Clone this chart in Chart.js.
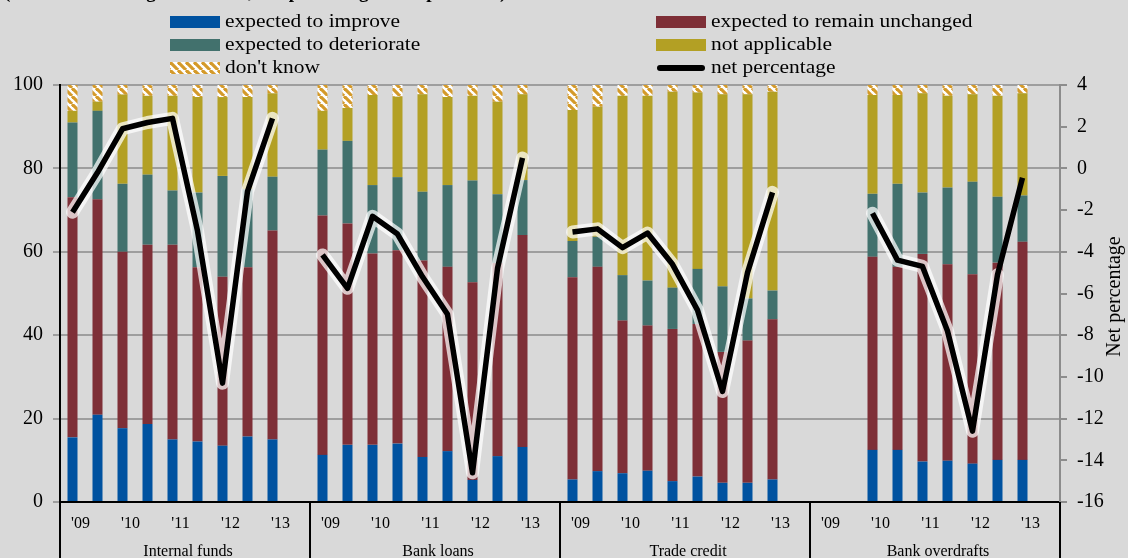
<!DOCTYPE html>
<html>
<head>
<meta charset="utf-8">
<script src="https://cdn.jsdelivr.net/npm/chart.js@4"></script>
<style>
  body { margin: 0; background: #d9d9d9; }
  #wrap { position: relative; width: 1128px; height: 558px; overflow: hidden; }
  #chart { position: absolute; left: 0; top: 0; }
  .hdr { position: absolute; left: 4px; top: -19px; font: bold 19px "Liberation Serif", serif; white-space: nowrap; }
  .lg { position: absolute; font: 19.5px "Liberation Serif", serif; color: #000; white-space: nowrap; line-height: 22px;
        transform: scaleX(1.1); transform-origin: left center; }
  .sw { position: absolute; width: 50px; height: 11px; }
</style>
</head>
<body>
<div id="wrap">
  <canvas id="chart" width="1128" height="558"></canvas>
  <div class="hdr">(over the following six months; net percentage of respondents)</div>
</div>
<script>
// categories
const groups = ['Internal funds', 'Bank loans', 'Trade credit', 'Bank overdrafts'];
const periodTicks = ["'09", '', "'10", '', "'11", '', "'12", '', "'13", ''];

// percentages of respondents, half-years H1 2009 .. H1 2013, per group
const improveIF = [15.5, 20.9, 17.7, 18.7, 15.0, 14.5, 13.5, 15.7, 15.0];
const unchangedIF = [57.6, 51.7, 42.3, 43.0, 46.7, 41.8, 40.5, 40.6, 50.1];
const deteriorateIF = [17.9, 21.2, 16.3, 16.8, 13.0, 17.9, 24.2, 18.7, 12.9];
const notApplicableIF = [2.8, 2.2, 21.4, 18.9, 22.7, 22.9, 18.9, 22.1, 20.0];
const dontKnowIF = [6.2, 4.0, 2.3, 2.6, 2.6, 2.9, 2.9, 2.9, 2.0];
const netIF = [-2.1, -0.2, 1.9, 2.2, 2.4, -3.0, -10.3, -1.1, 2.4];

const improveBL = [11.3, 13.7, 13.7, 14.0, 10.8, 12.2, 5.3, 11.0, 13.2];
const unchangedBL = [57.4, 53.1, 45.9, 46.4, 47.1, 44.2, 47.4, 46.3, 50.8];
const deteriorateBL = [15.8, 19.8, 16.4, 17.5, 16.5, 19.6, 24.4, 16.5, 13.2];
const notApplicableBL = [9.3, 7.9, 21.6, 19.3, 23.4, 21.1, 20.3, 22.2, 20.6];
const dontKnowBL = [6.2, 5.5, 2.4, 2.8, 2.2, 2.9, 2.6, 4.0, 2.2];
const netBL = [-4.15, -5.75, -2.3, -3.15, -5.2, -7.0, -14.6, -4.8, 0.5];

const improveTC = [5.4, 7.4, 6.9, 7.5, 5.0, 6.1, 4.6, 4.6, 5.4];
const unchangedTC = [48.5, 49.0, 36.6, 34.8, 36.5, 36.6, 31.4, 34.1, 38.4];
const deteriorateTC = [8.7, 7.2, 10.9, 10.8, 9.9, 13.2, 15.7, 10.1, 6.9];
const notApplicableTC = [31.4, 31.2, 43.0, 44.3, 47.0, 42.3, 46.1, 49.0, 47.7];
const dontKnowTC = [6.0, 5.2, 2.6, 2.6, 1.6, 1.8, 2.2, 2.2, 1.6];
const netTC = [-3.05, -2.9, -3.8, -3.1, -4.6, -6.8, -10.7, -5.0, -1.15];

const improveBO = [null, null, 12.5, 12.5, 9.7, 9.9, 9.2, 10.1, 10.1];
const unchangedBO = [null, null, 46.3, 43.9, 49.8, 47.1, 45.4, 47.3, 52.3];
const deteriorateBO = [null, null, 15.1, 19.9, 14.7, 18.4, 22.2, 15.8, 11.1];
const notApplicableBO = [null, null, 23.7, 21.3, 23.8, 22.0, 21.0, 24.2, 24.5];
const dontKnowBO = [null, null, 2.4, 2.4, 2.0, 2.6, 2.2, 2.6, 2.0];
const netBO = [null, null, -2.15, -4.4, -4.7, -7.8, -12.6, -5.1, -0.45];

const FONT = '"Liberation Serif", "Times New Roman", serif';

// each group gets 9 half-years plus one empty slot
function joinGroups(a, b, c, d) {
    return [...a, null, ...b, null, ...c, null, ...d, null];
}
const labels = [];
groups.forEach(() => labels.push(...periodTicks));

// hatched "don't know" fill
function makeHatch() {
    const c = document.createElement('canvas');
    c.width = 8; c.height = 8;
    const g = c.getContext('2d');
    g.fillStyle = '#ffffff';
    g.fillRect(0, 0, 8, 8);
    g.strokeStyle = '#d49a2a';
    g.lineWidth = 3.2;
    for (const o of [-8, 0, 8]) {
        g.beginPath();
        g.moveTo(o, 0);
        g.lineTo(o + 8, 8);
        g.stroke();
    }
    return c;
}
const hatchCanvas = makeHatch();
const ctx = document.getElementById('chart').getContext('2d');
const hatch = ctx.createPattern(hatchCanvas, 'repeat');

const colors = {
    improve: '#0052a0',
    unchanged: '#7e2f37',
    deteriorate: '#42716d',
    notApplicable: '#b3a024'
};

function barSet(label, data, color) {
    return {
        type: 'bar', label: label, data: data, backgroundColor: color,
        yAxisID: 'y', order: 3, categoryPercentage: 1, barPercentage: 0.4
    };
}

const netData = joinGroups(netIF, netBL, netTC, netBO);

const decorations = {
    id: 'decorations',
    afterDraw(chart) {
        const c = chart.ctx;
        const x = chart.scales.x;
        const area = chart.chartArea;
        const step = (x.right - x.left) / groups.length;
        c.save();
        c.strokeStyle = '#000';
        c.lineWidth = 2;
        for (let i = 0; i <= groups.length; i++) {
            const px = Math.round(x.left + i * step);
            c.beginPath();
            c.moveTo(px, area.bottom);
            c.lineTo(px, chart.height);
            c.stroke();
        }
        c.fillStyle = '#000';
        c.font = '16px ' + FONT;
        c.textAlign = 'center';
        c.textBaseline = 'middle';
        groups.forEach((g, i) => {
            c.fillText(g, x.left + (i + 0.5) * step + 3, 552);
        });
        // right axis title
        c.font = '20px ' + FONT;
        c.translate(1115, (area.top + area.bottom) / 2 + 3);
        c.rotate(-Math.PI / 2);
        c.fillText('Net percentage', 0, 0);
        c.restore();
    }
};

new Chart(ctx, {
    data: {
        labels: labels,
        datasets: [
            barSet('expected to improve', joinGroups(improveIF, improveBL, improveTC, improveBO), colors.improve),
            barSet('expected to remain unchanged', joinGroups(unchangedIF, unchangedBL, unchangedTC, unchangedBO), colors.unchanged),
            barSet('expected to deteriorate', joinGroups(deteriorateIF, deteriorateBL, deteriorateTC, deteriorateBO), colors.deteriorate),
            barSet('not applicable', joinGroups(notApplicableIF, notApplicableBL, notApplicableTC, notApplicableBO), colors.notApplicable),
            barSet("don't know", joinGroups(dontKnowIF, dontKnowBL, dontKnowTC, dontKnowBO), hatch),
            {
                // soft white glow under the net line
                type: 'line', label: 'glow', data: netData, yAxisID: 'y1', order: 2,
                borderColor: 'rgba(255,255,255,0.72)', borderWidth: 13,
                borderJoinStyle: 'round', borderCapStyle: 'round',
                pointRadius: 0, tension: 0, spanGaps: false,
                segment: { borderColor: s => s.p0DataIndex === 37 ? 'rgba(0,0,0,0)' : undefined }
            },
            {
                type: 'line', label: 'net percentage', data: netData, yAxisID: 'y1', order: 1,
                borderColor: '#000', borderWidth: 5.5, borderJoinStyle: 'round',
                pointRadius: 0, tension: 0, spanGaps: false
            }
        ]
    },
    options: {
        responsive: false,
        animation: false,
        layout: { padding: { top: 85, left: 0, right: 0, bottom: 0 } },
        plugins: { legend: { display: false }, tooltip: { enabled: false } },
        scales: {
            x: {
                stacked: true,
                grid: { display: false, drawTicks: false },
                border: { color: '#000', width: 2 },
                ticks: {
                    autoSkip: false, maxRotation: 0, minRotation: 0, labelOffset: 8, padding: 12,
                    color: '#000', font: { family: FONT, size: 16 }
                },
                afterFit: s => { s.height = 56; }
            },
            y: {
                stacked: true, min: 0, max: 100,
                ticks: { stepSize: 20, padding: 10, color: '#000', font: { family: FONT, size: 20 } },
                grid: { color: '#9e9e9e', lineWidth: 2, tickLength: 7 },
                border: { color: '#000', width: 2 },
                afterFit: s => { s.width = 60; }
            },
            y1: {
                position: 'right', min: -16, max: 4,
                ticks: { stepSize: 2, padding: 10, color: '#000', font: { family: FONT, size: 20 } },
                grid: { drawOnChartArea: false, color: '#8c8c8c', lineWidth: 2, tickLength: 7 },
                border: { color: '#8c8c8c', width: 2 },
                afterFit: s => { s.width = 68; }
            }
        }
    },
    plugins: [decorations]
});

// legend, two columns
const legendItems = [
    { text: 'expected to improve', fill: colors.improve, x: 170, y: 22 },
    { text: 'expected to remain unchanged', fill: colors.unchanged, x: 656, y: 22 },
    { text: 'expected to deteriorate', fill: colors.deteriorate, x: 170, y: 45 },
    { text: 'not applicable', fill: colors.notApplicable, x: 656, y: 45 },
    { text: "don't know", fill: 'hatch', x: 170, y: 68 },
    { text: 'net percentage', fill: 'line', x: 656, y: 68 }
];
const wrap = document.getElementById('wrap');
legendItems.forEach(item => {
    const sw = document.createElement('canvas');
    sw.className = 'sw';
    sw.width = 50; sw.height = 12;
    sw.style.left = item.x + 'px';
    sw.style.top = (item.y - 6) + 'px';
    sw.style.height = '12px';
    const g = sw.getContext('2d');
    if (item.fill === 'hatch') {
        g.fillStyle = g.createPattern(hatchCanvas, 'repeat');
        g.fillRect(0, 0, 50, 12);
    } else if (item.fill === 'line') {
        g.strokeStyle = '#000';
        g.lineWidth = 6;
        g.lineCap = 'round';
        g.beginPath();
        g.moveTo(4, 6);
        g.lineTo(46, 6);
        g.stroke();
    } else {
        g.fillStyle = item.fill;
        g.fillRect(0, 0, 50, 12);
    }
    wrap.appendChild(sw);
    const t = document.createElement('div');
    t.className = 'lg';
    t.textContent = item.text;
    t.style.left = (item.x + 55) + 'px';
    t.style.top = (item.y - 12) + 'px';
    wrap.appendChild(t);
});
</script>
</body>
</html>
